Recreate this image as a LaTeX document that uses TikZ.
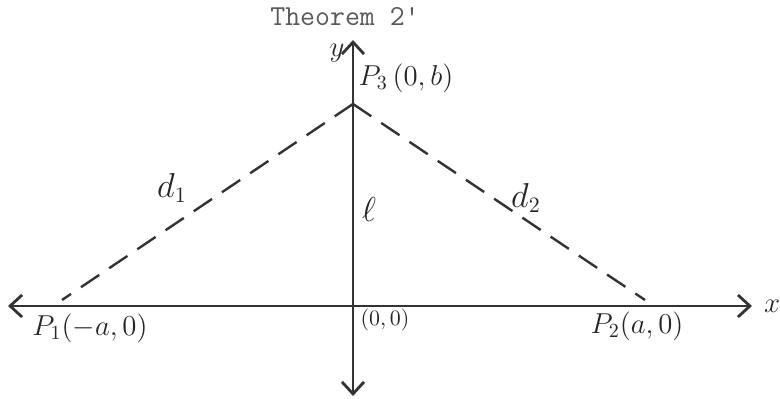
\documentclass[tikz,border=0pt]{standalone}
\usepackage{tikz}
\usetikzlibrary{positioning, arrows.meta}

\begin{document}
\begin{tikzpicture}[
    x=0.5pt, y=-0.5pt,
    axis/.style={{Straight Barb[length=6pt,width=11pt]}-{Straight Barb[length=6pt,width=11pt]}, line width=1.4pt, draw=black!80},
    side/.style={dashed, dash pattern=on 11pt off 6pt, line width=1.2pt, draw=black!80},
    hand/.style={font=\fontsize{14}{16}\selectfont, text=black!85, inner sep=1pt},
    title/.style={font=\ttfamily\fontsize{14.5}{16}\selectfont, text=black!65, inner sep=1pt}
]
\useasboundingbox (0,0) rectangle (780,399);

% Axes ends
\coordinate (O) at (353,306);
\coordinate (xl) at (8,306);
\coordinate (xr) at (752,306);
\coordinate (yt) at (353,40);
\coordinate (yb) at (353,396);

% Points
\coordinate (P3) at (353,104);
\coordinate (P1) at (62,300);
\coordinate (P2) at (645,300);

% Axes
\draw [axis] (xl) -- (xr);
\draw [axis] (yb) -- (yt);

% Sides
\draw [side] (P3) -- (P1);
\draw [side] (P3) -- (P2);

% Labels
\node (thm) [title] at (345,17) {Theorem 2'};
\node (ylab) [hand, inner sep=0pt] at (337,53) {$y$};
\node (xlab) [hand] at (772,306) {$x$};
\node (p3lab) [hand] at (406,78) {$P_3\,(0,b)$};
\node (p1lab) [hand] at (90,328) {$P_1(-a,0)$};
\node (p2lab) [hand] at (637,326) {$P_2(a,0)$};
\node (olab) [hand, font=\fontsize{11}{13}\selectfont] at (385,320) {$(0,0)$};
\node (d1lab) [hand, font=\fontsize{16}{18}\selectfont] at (172,188) {$d_1$};
\node (d2lab) [hand, font=\fontsize{16}{18}\selectfont] at (526,198) {$d_2$};
\node (llab) [hand, font=\fontsize{16}{18}\selectfont] at (369,210) {$\ell$};

\end{tikzpicture}
\end{document}
